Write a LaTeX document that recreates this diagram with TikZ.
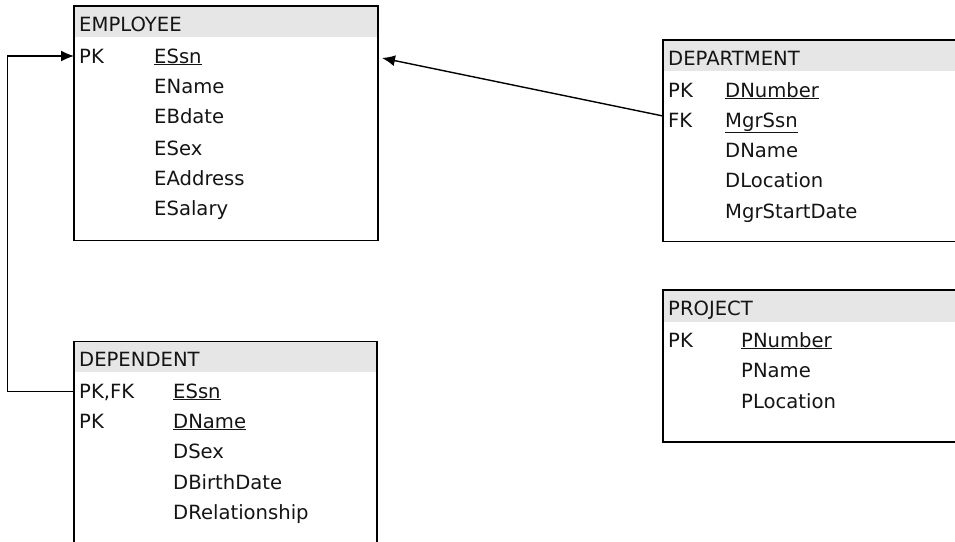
\documentclass[tikz,border=0pt]{standalone}
\usepackage{fontspec}
\setmainfont{DejaVu Sans}
\usetikzlibrary{arrows.meta}
\definecolor{hdr}{HTML}{E6E6E6}
\definecolor{txt}{HTML}{141414}
\tikzset{
  tbox/.style={draw=black, line width=1.4pt},
  thead/.style={fill=hdr},
  fld/.style={anchor=base west, inner sep=0pt, text=txt, font=\fontsize{19.6}{22}\selectfont},
  conn/.style={draw=black, line width=1.4pt, -{Latex[length=13pt,width=11pt]}},
}
\newcommand{\keyu}[1]{\underline{#1}}
\begin{document}
\begin{tikzpicture}[x=1pt,y=-1pt]
\useasboundingbox (0,0) rectangle (955,541);
\clip (0,0) rectangle (955,541);
% EMPLOYEE
\fill[thead] (74,6) rectangle (378,37);
\draw[tbox] (74,6) rectangle (378,240.5);
\node[fld] (emp) at (79,31.5) {EMPLOYEE};
\node[fld] (epk) at (79,63) {PK};
\node[fld] (essn) at (154,63) {\keyu{ESsn}};
\node[fld] (ename) at (154,93) {EName};
\node[fld] (ebd) at (154,123) {EBdate};
\node[fld] (esex) at (154,155) {ESex};
\node[fld] (eadr) at (154,185) {EAddress};
\node[fld] (esal) at (154,215) {ESalary};
\coordinate (empL) at (74,56);
\coordinate (empR) at (382,58);
% DEPARTMENT
\fill[thead] (663,40) rectangle (965,71);
\draw[tbox] (663,40) rectangle (965,241.5);
\node[fld] (dept) at (668,65) {DEPARTMENT};
\node[fld] (dpk) at (668,97) {PK};
\node[fld] (dnum) at (725,97) {\keyu{DNumber}};
\node[fld] (dfk) at (668,127) {FK};
\node[fld] (dmgr) at (725,127) {\keyu{MgrSsn}};
\node[fld] (dname) at (725,157) {DName};
\node[fld] (dloc) at (725,187) {DLocation};
\node[fld] (dmsd) at (725,218) {MgrStartDate};
\coordinate (deptL) at (663,116);
% PROJECT
\fill[thead] (663,290) rectangle (965,322);
\draw[tbox] (663,290) rectangle (965,442);
\node[fld] (proj) at (668,315) {PROJECT};
\node[fld] (ppk) at (668,347) {PK};
\node[fld] (pnum) at (741,347) {\keyu{PNumber}};
\node[fld] (pname) at (741,377) {PName};
\node[fld] (ploc) at (741,408) {PLocation};
% DEPENDENT
\fill[thead] (74,341.5) rectangle (377,372);
\draw[tbox] (74,341.5) rectangle (377,560);
\node[fld] (dep) at (79,366) {DEPENDENT};
\node[fld] (dppk) at (79,398) {PK,FK};
\node[fld] (dpssn) at (173,398) {\keyu{ESsn}};
\node[fld] (dppk2) at (79,428) {PK};
\node[fld] (dpname) at (173,428) {\keyu{DName}};
\node[fld] (dpsex) at (173,458) {DSex};
\node[fld] (dpbd) at (173,489) {DBirthDate};
\node[fld] (dprel) at (173,519) {DRelationship};
\coordinate (depL) at (74,391.5);
% connectors
\draw[conn] (depL) -- (7.5,391.5) |- (empL);
\draw[conn] (deptL) -- (empR);
\end{tikzpicture}
\end{document}
